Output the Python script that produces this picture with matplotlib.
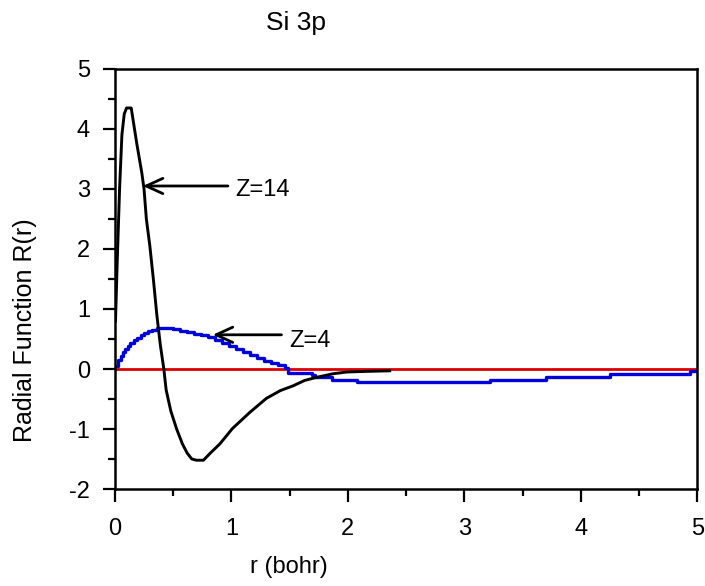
import matplotlib
matplotlib.use("Agg")
import matplotlib.pyplot as plt
from matplotlib.ticker import MultipleLocator

# Z=14 radial function (black)
r_z14 = [0.005, 0.02, 0.04, 0.06, 0.08, 0.10, 0.14, 0.16, 0.19, 0.23, 0.25, 0.27,
         0.30, 0.33, 0.36, 0.39, 0.42, 0.44, 0.48, 0.53, 0.58, 0.62, 0.66,
         0.70, 0.76, 0.82, 0.90, 1.01, 1.16, 1.30, 1.42, 1.53, 1.63, 1.73, 1.87,
         1.99, 2.15, 2.36]
R_z14 = [0.8, 1.8, 3.0, 3.9, 4.25, 4.35, 4.35, 4.1, 3.73, 3.28, 3.0, 2.5,
         2.05, 1.5, 0.9, 0.4, 0.0, -0.35, -0.7, -1.0, -1.25, -1.4, -1.5,
         -1.52, -1.52, -1.40, -1.25, -0.99, -0.72, -0.49, -0.36, -0.28, -0.19, -0.14, -0.08,
         -0.05, -0.04, -0.03]

# Z=4 radial function (blue, stepped)
r_z4 = [0.0, 0.03, 0.05, 0.07, 0.09, 0.11, 0.13, 0.16, 0.19, 0.22, 0.25, 0.28,
        0.32, 0.36, 0.50, 0.56, 0.62, 0.68, 0.74, 0.80, 0.86, 0.92, 0.98, 1.04,
        1.10, 1.16, 1.22, 1.28, 1.34, 1.40, 1.46, 1.49, 1.69, 1.72, 1.86,
        2.08, 3.22, 3.70, 4.25, 4.94, 5.0]
R_z4 = [0.05, 0.15, 0.22, 0.28, 0.33, 0.38, 0.43, 0.48, 0.52, 0.56, 0.60, 0.63,
        0.65, 0.68, 0.66, 0.63, 0.61, 0.59, 0.57, 0.53, 0.49, 0.44, 0.39, 0.34,
        0.28, 0.23, 0.18, 0.14, 0.10, 0.06, 0.02, -0.06, -0.10, -0.14, -0.18,
        -0.21, -0.18, -0.13, -0.08, -0.04, -0.04]

zero_r = [0, 5]
zero_R = [0, 0]

plt.rcParams["font.family"] = ["Liberation Sans", "DejaVu Sans"]
plt.rcParams["axes.unicode_minus"] = False

fig = plt.figure(figsize=(7.05, 5.86), dpi=100)
ax = fig.add_axes([0.163, 0.1655, 0.826, 0.7168])

ax.plot(zero_r, zero_R, color="#dd0000", lw=2.0, zorder=1)
ax.plot(r_z4, R_z4, color="#0000dd", lw=2.4, drawstyle="steps-post", zorder=2)
ax.plot(r_z14, R_z14, color="black", lw=2.1, zorder=3)

arrow = dict(arrowstyle="->,head_length=1.2,head_width=0.55", color="black", lw=2.0,
             shrinkA=0, shrinkB=0)
ax.annotate("", xy=(0.24, 3.05), xytext=(0.97, 3.05), arrowprops=arrow)
ax.text(1.03, 2.98, "Z=14", fontsize=17, va="center", ha="left")
ax.annotate("", xy=(0.84, 0.57), xytext=(1.43, 0.57), arrowprops=arrow)
ax.text(1.50, 0.46, "Z=4", fontsize=17, va="center", ha="left")

ax.set_xlim(0, 5)
ax.set_ylim(-2, 5)
ax.xaxis.set_major_locator(MultipleLocator(1))
ax.xaxis.set_minor_locator(MultipleLocator(0.5))
ax.yaxis.set_major_locator(MultipleLocator(1))
ax.yaxis.set_minor_locator(MultipleLocator(0.5))
ax.tick_params(which="major", direction="out", length=9, width=1.6, labelsize=17, pad=12)
ax.tick_params(which="minor", direction="out", length=5, width=1.6)
ax.tick_params(axis="y", which="major", pad=9)
for spine in ax.spines.values():
    spine.set_linewidth(1.8)

fig.text(0.42, 0.961, "Si 3p", fontsize=19, ha="center", va="center")
fig.text(0.41, 0.032, "r (bohr)", fontsize=17, ha="center", va="center")
fig.text(0.035, 0.437, "Radial Function R(r)", fontsize=18, ha="center", va="center",
         rotation=90)

fig.savefig("out.png", dpi=100, facecolor="white")
